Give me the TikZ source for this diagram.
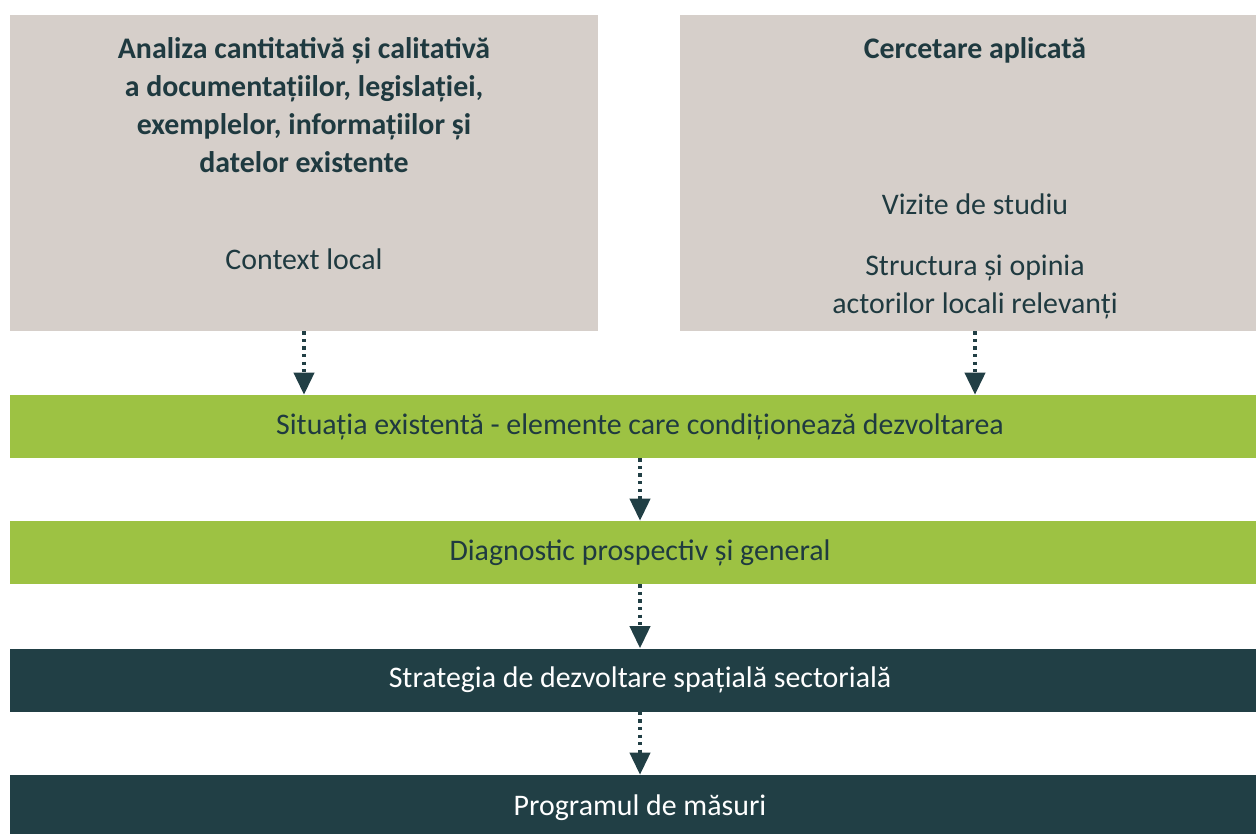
\documentclass[tikz,border=0pt]{standalone}
\usepackage{fontspec}
\setmainfont{Carlito}
\usetikzlibrary{arrows.meta}

\definecolor{boxgrey}{HTML}{D6CFCA}
\definecolor{leafgreen}{HTML}{9DC243}
\definecolor{deepteal}{HTML}{213F45}
\definecolor{inkteal}{HTML}{1F3A40}

\tikzset{
  sourcebox/.style={fill=boxgrey, inner sep=0pt, minimum height=6.32cm},
  greenbar/.style={fill=leafgreen, text=inkteal, inner sep=0pt, minimum width=25.2cm, minimum height=1.26cm, font=\fontsize{17}{21.5}\selectfont},
  darkbar/.style={fill=deepteal, text=white, inner sep=0pt, minimum width=25.2cm, minimum height=1.26cm, font=\fontsize{17}{21.5}\selectfont},
  headtxt/.style={text=inkteal, align=center, font=\fontsize{17}{21.5}\selectfont\bfseries},
  bodytxt/.style={text=inkteal, align=center, font=\fontsize{17}{21.5}\selectfont},
  flow/.style={draw=deepteal, line width=1.9pt, dash pattern=on 1.9pt off 2.4pt, -{Triangle[length=12.5pt, width=11.5pt]}}
}

\begin{document}
\begin{tikzpicture}[x=0.02cm, y=-0.02cm]
  \useasboundingbox (0,0) rectangle (1256,833);

  % the two source boxes
  \node[sourcebox, minimum width=11.76cm] (analiza) at (304,173) {};
  \node[sourcebox, minimum width=11.8cm] (cercetare) at (975,173) {};

  \node[headtxt] (analizaT) at (304,105) {Analiza cantitativă și calitativă\\a documentațiilor, legislației,\\exemplelor, informațiilor și\\datelor existente};
  \node[bodytxt] (context) at (304,259) {Context local};

  \node[headtxt] (cercetareT) at (975,50) {Cercetare aplicată};
  \node[bodytxt] (vizite) at (975,204) {Vizite de studiu};
  \node[bodytxt] (actori) at (975,287) {Structura și opinia\\actorilor locali relevanți};

  % the bars
  \node[greenbar] (situatia) at (640,426.5) {Situația existentă - elemente care condiționează dezvoltarea};
  \node[greenbar] (diagnostic) at (640,552.5) {Diagnostic prospectiv și general};
  \node[darkbar] (strategia) at (640,680) {Strategia de dezvoltare spațială sectorială};
  \node[darkbar, minimum height=1.3cm] (program) at (640,807.5) {Programul de măsuri};

  % arrows
  \draw[flow] (analiza.south) -- (situatia.north -| analiza.south);
  \draw[flow] (cercetare.south) -- (situatia.north -| cercetare.south);
  \draw[flow] (situatia) -- (diagnostic);
  \draw[flow] (diagnostic) -- (strategia);
  \draw[flow] (strategia) -- (program);
\end{tikzpicture}
\end{document}
